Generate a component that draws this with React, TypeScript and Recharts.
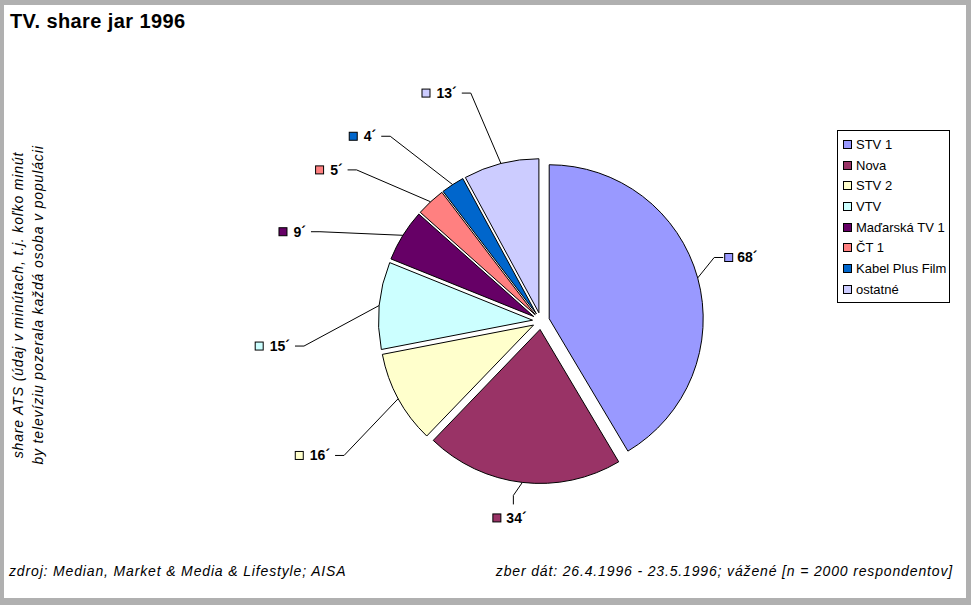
import React from 'react'
import { PieChart, Pie, Cell, Sector, Legend } from 'recharts'

const channels = ['STV 1', 'Nova', 'STV 2', 'VTV', 'Maďarská TV 1', 'ČT 1', 'Kabel Plus Film', 'ostatné']
const minutes = [68, 34, 16, 15, 9, 5, 4, 13]
const colors = ['#9999FF', '#993366', '#FFFFCC', '#CCFFFF', '#660066', '#FF8080', '#0066CC', '#CCCCFF']

const data = channels.map((name, i) => ({ name, value: minutes[i], color: colors[i] }))

const RAD = Math.PI / 180
const EXPLODE = 8.5
const FONT = '"Liberation Sans", Arial, sans-serif'

const ExplodedSector = (props: any) => {
  const { cx, cy, midAngle, ...rest } = props
  const dx = EXPLODE * Math.cos(-midAngle * RAD)
  const dy = EXPLODE * Math.sin(-midAngle * RAD)
  return <Sector {...rest} cx={cx + dx} cy={cy + dy} stroke="#000" strokeWidth={1} />
}

const textWidth = (s: string) => (s.length - 1) * 7.8 + 4.7

const renderLabel = (props: any) => {
  const { cx, cy, midAngle, outerRadius, value, payload } = props
  const cos = Math.cos(-midAngle * RAD)
  const sin = Math.sin(-midAngle * RAD)
  const ox = cx + EXPLODE * cos
  const oy = cy + EXPLODE * sin
  const sx = ox + outerRadius * cos
  const sy = oy + outerRadius * sin
  const fill = payload?.color ?? props.fill
  const label = `${value}´`
  const w = textWidth(label)

  // near the bottom: put the label under the leader line
  if (Math.abs(cos) < 0.2) {
    const lx = sx - 9
    const ly = sy + 22
    return (
      <g>
        <polyline points={`${sx},${sy} ${lx},${sy + 13} ${lx},${ly}`} fill="none" stroke="#000" strokeWidth={1} />
        <rect x={lx - 20.5} y={ly + 9.5} width={8} height={8} fill={fill} stroke="#000" />
        <text x={lx - 7} y={ly + 19} fontFamily={FONT} fontSize={14} fontWeight="bold" fill="#000">{label}</text>
      </g>
    )
  }

  // labels are fanned out a little, most in the crowded upper left
  const shift = cos < 0 ? (sin < 0 ? 12 * Math.abs(cos) : 6) : 5
  const la = (midAngle + shift) * RAD
  const rr = cos < 0 ? outerRadius + 76 : outerRadius + 22
  const ex = ox + rr * Math.cos(-la)
  const ey = oy + rr * Math.sin(-la)

  const right = cos >= 0
  const stub = 9
  const tx = right ? ex + stub : ex - stub
  return (
    <g>
      <polyline points={`${sx},${sy} ${ex},${ey} ${tx},${ey}`} fill="none" stroke="#000" strokeWidth={1} />
      {right ? (
        <>
          <rect x={tx + 1.5} y={ey - 4} width={8} height={8} fill={fill} stroke="#000" />
          <text x={tx + 14} y={ey + 5} fontFamily={FONT} fontSize={14} fontWeight="bold" fill="#000">{label}</text>
        </>
      ) : (
        <>
          <text x={tx - 5} y={ey + 5} textAnchor="end" fontFamily={FONT} fontSize={14} fontWeight="bold" fill="#000">{label}</text>
          <rect x={tx - 5 - w - 14.5} y={ey - 4} width={8} height={8} fill={fill} stroke="#000" />
        </>
      )}
    </g>
  )
}

const renderLegend = () => (
  <div style={{ border: '1px solid #000', background: '#fff', padding: '3px 0 2px 5px', width: 106, boxSizing: 'content-box' }}>
    {data.map((d) => (
      <div key={d.name} style={{ display: 'flex', alignItems: 'center', height: 20.7, fontFamily: FONT, fontSize: 13, color: '#000', whiteSpace: 'nowrap' }}>
        <span style={{ display: 'inline-block', width: 7, height: 7, background: d.color, border: '1px solid #000', marginRight: 4 }} />
        {d.name}
      </div>
    ))}
  </div>
)

const italic = { fontFamily: FONT, fontSize: 14, fontStyle: 'italic' as const, letterSpacing: 0.85, color: '#000', whiteSpace: 'nowrap' as const }

export default function App() {
  return (
    <div style={{ position: 'fixed', left: 0, top: 0, width: 971, height: 605, boxSizing: 'border-box', background: '#fff', borderStyle: 'solid', borderColor: '#b0b0b0', borderWidth: '5px 5px 7px 4px' }}>
      <div style={{ position: 'absolute', left: 6, top: 5, fontFamily: FONT, fontSize: 20, fontWeight: 'bold', letterSpacing: 0.4, color: '#000' }}>
        TV. share jar 1996
      </div>
      <div style={{ ...italic, position: 'absolute', left: 5, top: 558 }}>
        zdroj: Median, Market &amp; Media &amp; Lifestyle; AISA
      </div>
      <div style={{ ...italic, position: 'absolute', right: 13, top: 558 }}>
        zber dát: 26.4.1996 - 23.5.1996; vážené [n = 2000 respondentov]
      </div>
      <div style={{ position: 'absolute', left: 24, top: 300, width: 0, height: 0 }}>
        <div style={{ ...italic, position: 'absolute', left: 0, top: 0, transform: 'translate(-50%, -50%) rotate(-90deg)', lineHeight: '20px', textAlign: 'center' }}>
          share ATS (údaj v minútach, t.j. koľko minút<br />
          by televíziu pozerala každá osoba v populácii
        </div>
      </div>
      <div style={{ position: 'absolute', left: -4, top: -5 }}>
        <PieChart width={971} height={605}>
          <Pie
            data={data}
            dataKey="value"
            nameKey="name"
            cx={536}
            cy={316}
            outerRadius={154}
            startAngle={90}
            endAngle={-270}
            stroke="#000"
            strokeWidth={1}
            shape={ExplodedSector}
            label={renderLabel}
            labelLine={false}
            isAnimationActive={false}
          >
            {data.map((d, i) => (
              <Cell key={`cell-${i}`} fill={d.color} />
            ))}
          </Pie>
          <Legend
            layout="vertical"
            content={renderLegend}
            wrapperStyle={{ left: 837, top: 130, width: 113 }}
          />
        </PieChart>
      </div>
    </div>
  )
}
